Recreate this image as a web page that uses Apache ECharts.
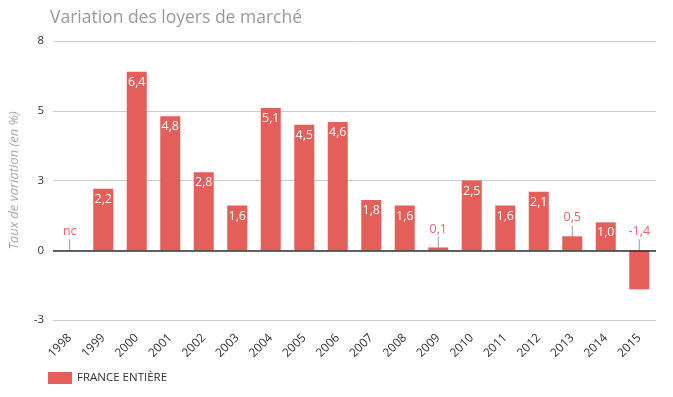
<!DOCTYPE html>
<html>
<head>
<meta charset="utf-8">
<script src="https://cdn.jsdelivr.net/npm/echarts@6/dist/echarts.min.js"></script>
<style>
  html, body { margin: 0; padding: 0; background: #fff; }
  #chart { width: 673px; height: 397px; }
</style>
</head>
<body>
<div id="chart"></div>
<script>
// données
var years = ['1998','1999','2000','2001','2002','2003','2004','2005','2006',
             '2007','2008','2009','2010','2011','2012','2013','2014','2015'];
var variation = [null, 2.2, 6.4, 4.8, 2.8, 1.6, 5.1, 4.5, 4.6,
                 1.8, 1.6, 0.1, 2.5, 1.6, 2.1, 0.5, 1.0, -1.4];
var yTicks = [-2.5, 0, 2.5, 5, 7.5];

var red = '#e45e5a';
var font = 'Open Sans';

function fmt(v) {
    return v.toFixed(1).replace('.', ',');
}
// petites valeurs : étiquette au-dessus avec un trait
function isOutside(v) {
    return v === null || v < 0.8;
}

var barData = variation.map(function (v) {
    var out = isOutside(v);
    return {
        value: v === null ? 0 : v,
        label: out ? {
            position: 'top',
            distance: 12,
            color: '#e8606a',
            formatter: v === null ? 'nc' : fmt(v)
        } : {
            position: 'insideTop',
            distance: 4,
            color: '#fff',
            formatter: fmt(v)
        }
    };
});

var leaderData = [];
variation.forEach(function (v, i) {
    if (isOutside(v)) leaderData.push([i, v === null ? 0 : Math.max(v, 0)]);
});

var chart = echarts.init(document.getElementById('chart'));
chart.setOption({
    animation: false,
    textStyle: { fontFamily: font },
    title: {
        text: 'Variation des loyers de marché',
        left: 45,
        top: 4,
        textStyle: { color: '#9a9a9a', fontSize: 17.5, fontWeight: 'normal', fontFamily: font }
    },
    legend: {
        left: 43,
        top: 367,
        icon: 'rect',
        itemWidth: 24,
        itemHeight: 12,
        itemGap: 8,
        textStyle: { color: '#333', fontSize: 11.5, fontFamily: font },
        data: ['FRANCE ENTIÈRE']
    },
    grid: { left: 47, right: 17, top: 41, bottom: 77 },
    xAxis: {
        type: 'category',
        data: years,
        axisLine: { show: false, onZero: false },
        axisTick: { show: false },
        axisLabel: { rotate: 45, color: '#333', fontSize: 12, margin: 16, interval: 0 }
    },
    yAxis: {
        type: 'value',
        min: yTicks[0],
        max: yTicks[yTicks.length - 1],
        interval: 2.5,
        name: 'Taux de variation (en %)',
        nameLocation: 'middle',
        nameGap: 32,
        nameTextStyle: { color: '#aaa', fontSize: 13, fontStyle: 'italic' },
        axisLine: { show: false },
        axisTick: { show: false },
        axisLabel: {
            color: '#333', fontSize: 11.5, margin: 9,
            formatter: function (v) {
                return (v < 0 ? '-' : '') + Math.round(Math.abs(v));
            }
        },
        splitLine: { lineStyle: { color: '#cccccc' } }
    },
    series: [
        {
            name: 'FRANCE ENTIÈRE',
            type: 'bar',
            barWidth: 20,
            itemStyle: { color: red },
            label: { show: true, fontSize: 12.5 },
            data: barData,
            markLine: {
                silent: true,
                symbol: 'none',
                label: { show: false },
                lineStyle: { color: '#333', type: 'solid', width: 1.5 },
                data: [{ yAxis: 0 }]
            }
        },
        {
            type: 'custom',
            silent: true,
            z: 3,
            renderItem: function (params, api) {
                var p = api.coord([api.value(0), api.value(1)]);
                return {
                    type: 'line',
                    shape: { x1: p[0], y1: p[1], x2: p[0], y2: p[1] - 11 },
                    style: { stroke: '#999', lineWidth: 1 }
                };
            },
            data: leaderData
        }
    ]
});
</script>
</body>
</html>
